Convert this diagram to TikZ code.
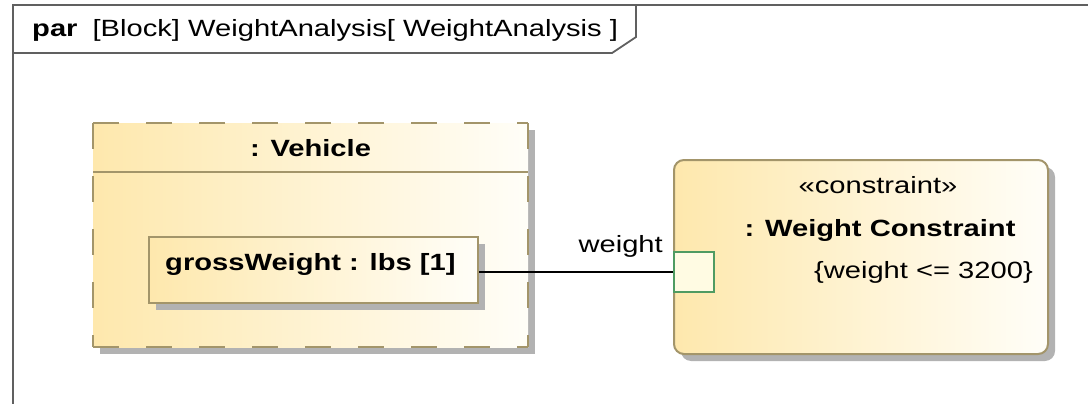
\documentclass[tikz,border=0pt]{standalone}
\usepackage{fontspec}
\setmainfont{Liberation Sans}[FakeStretch=1.24]
\usetikzlibrary{shadows}

\definecolor{blockyellow}{HTML}{FEE8AD}
\definecolor{blockwhite}{HTML}{FFFEF8}
\definecolor{blockedge}{HTML}{A3956A}
\definecolor{shadowgray}{HTML}{B2B2B2}
\definecolor{portedge}{HTML}{4F9B62}
\definecolor{portfill}{HTML}{FFFBE3}
\definecolor{framegray}{HTML}{606060}

\begin{document}
\begin{tikzpicture}[x=1pt, y=-1pt,
  font=\fontsize{23.5}{28}\selectfont,
  frameline/.style={draw=framegray, line width=1.8pt},
  boxshadow/.style={drop shadow={shadow xshift=7pt, shadow yshift=-7pt, opacity=1, fill=shadowgray}},
  blockfill/.style={left color=blockyellow, right color=blockwhite},
  partbox/.style={rectangle, blockfill, boxshadow, anchor=north west, inner sep=0pt},
  dashedge/.style={draw=blockedge, line width=2pt, dash pattern=on 26pt off 27pt},
  solidedge/.style={draw=blockedge, line width=2pt},
  portbox/.style={rectangle, draw=portedge, fill=portfill, line width=1.8pt,
                  minimum width=40pt, minimum height=40pt, inner sep=0pt, anchor=north west},
  connector/.style={draw=black, line width=1.8pt},
  txt/.style={inner sep=0pt, text=black}
]
\useasboundingbox (0,0) rectangle (1088,404);

% diagram frame with its name tab
\draw[frameline] (13,410) -- (13,5) -- (1095,5);
\draw[frameline] (13,53) -- (612,53) -- (636,37) -- (636,5);
\node[txt, anchor=base west] (title) at (32,37)
  {\textbf{par}\hspace{7pt} [Block] WeightAnalysis[ WeightAnalysis ]};

% : Vehicle part (dashed border)
\node[partbox, minimum width=435pt, minimum height=224pt] (veh) at (93,123) {};
\draw[dashedge] (veh.north west) -- (veh.north east);
\draw[dashedge] (veh.north west) -- (veh.south west);
\draw[dashedge] (veh.north east) -- (veh.south east);
\draw[dashedge] (veh.south west) -- (veh.south east);
\draw[solidedge] ([yshift=-49pt]veh.north west) -- ([yshift=-49pt]veh.north east);
\node[txt, anchor=base, font=\fontsize{23.5}{28}\selectfont\bfseries] (vehname) at (310.5,156) {: Vehicle};

% grossWeight value property
\node[partbox, solidedge, minimum width=329pt, minimum height=66pt] (gw) at (148,236) {};
\node[txt, anchor=base west, font=\fontsize{23.5}{28}\selectfont\bfseries] (gwname) at (165,270)
  {grossWeight : lbs [1]};

% : Weight Constraint property
\node[partbox, solidedge, rounded corners=10pt, minimum width=374pt, minimum height=194pt] (wc) at (673,159) {};
\node[txt, anchor=base] (stereo) at (878,193) {«constraint»};
\node[txt, anchor=base, font=\fontsize{23.5}{28}\selectfont\bfseries] (wcname) at (880,236) {: Weight Constraint};
\node[txt, anchor=base east] (expr) at (1033,278) {\{weight <= 3200\}};

% constraint parameter and binding connector
\node[portbox] (port) at (673,251) {};
\node[txt, anchor=base east] (portlabel) at (663,252) {weight};
\draw[connector] (gw.east |- port.west) -- (port.west);
\end{tikzpicture}
\end{document}
